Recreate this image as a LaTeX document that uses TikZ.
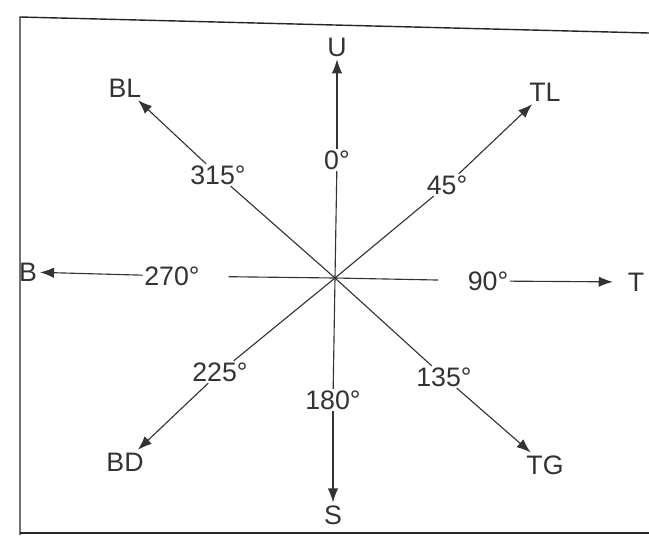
\documentclass[tikz,border=0pt]{standalone}
\usepackage{fontspec}
\setmainfont{Liberation Sans}
\usetikzlibrary{arrows.meta}

\begin{document}
\begin{tikzpicture}[
    x=0.025cm, y=-0.025cm,
    every node/.style={inner sep=2pt},
    dirlbl/.style={font=\fontsize{19}{22}\selectfont, text=black!80},
    anglbl/.style={font=\fontsize{19}{22}\selectfont, text=black!80, inner sep=1pt},
    spoke/.style={black!80, line width=0.8pt},
    pointer/.style={black!80, line width=0.8pt, -{Latex[length=3.5mm, width=2.6mm]}}
]
    \useasboundingbox (0,0) rectangle (649,535);

    % Frame (top, left and bottom edges)
    \draw[black!85, line width=1pt] (649,33) -- (20,17) -- (20,535);
    \draw[black!85, line width=1pt] (20,533) -- (649,533);

    % Centre of the rose
    \coordinate (c) at (335,278);

    % Direction letters
    \node[dirlbl] (u)  at (337,47)  {U};
    \node[dirlbl] (tl) at (545,92)  {TL};
    \node[dirlbl] (t)  at (636,282) {T};
    \node[dirlbl] (tg) at (545,465) {TG};
    \node[dirlbl] (s)  at (333,515) {S};
    \node[dirlbl] (bd) at (125,462) {BD};
    \node[dirlbl] (b)  at (28,272)  {B};
    \node[dirlbl] (bl) at (125,88)  {BL};

    % Angle labels
    \node[anglbl] (a0)   at (337,160) {0°};
    \node[anglbl] (a45)  at (447,185) {45°};
    \node[anglbl] (a90)  at (488,281) {90°};
    \node[anglbl] (a135) at (444,377) {135°};
    \node[anglbl] (a180) at (333,400) {180°};
    \node[anglbl] (a225) at (220,372) {225°};
    \node[anglbl] (a270) at (172,276) {270°};
    \node[anglbl] (a315) at (218,175) {315°};

    % Spokes from the centre to the angle labels
    \foreach \a in {a0,a45,a135,a180,a225,a315}
        \draw[spoke] (c) -- (\a);
    \draw[spoke, shorten >=0.68cm] (c) -- (a270);
    \draw[spoke, shorten >=0.7cm] (c) -- (a90);

    % Arrows from the angle labels to the directions
    \draw[pointer] (a0) -- (u);
    \draw[pointer] (a45) -- (tl);
    \draw[pointer, shorten >=0.3cm] (a90) -- (t);
    \draw[pointer] (a135) -- (tg);
    \draw[pointer] (a180) -- (s);
    \draw[pointer] (a225) -- (bd);
    \draw[pointer] (a270) -- (b);
    \draw[pointer] (a315) -- (bl);
\end{tikzpicture}
\end{document}
